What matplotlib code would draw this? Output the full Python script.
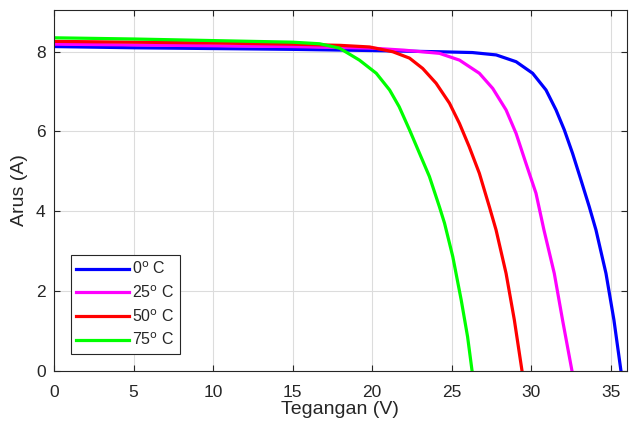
import matplotlib.pyplot as plt

plt.rcParams["font.family"] = ["Liberation Sans", "DejaVu Sans"]

# I-V curves, one per temperature
v_0c = [0, 5, 10, 15, 20, 24.2, 26.3, 27.8, 29.05, 30.09, 30.93, 31.56,
        32.08, 32.6, 33.13, 33.65, 34.07, 34.7, 35.2, 35.64]
i_0c = [8.13, 8.10, 8.08, 8.06, 8.03, 8.0, 7.98, 7.92, 7.75, 7.46, 7.04,
        6.54, 6.04, 5.45, 4.78, 4.11, 3.53, 2.44, 1.27, 0.0]

v_25c = [0, 5, 10, 15, 20, 22, 24.23, 25.49, 26.74, 27.58, 28.42, 29.05,
         29.67, 30.3, 30.8, 31.45, 31.97, 32.56]
i_25c = [8.19, 8.17, 8.15, 8.13, 8.09, 8.04, 7.96, 7.79, 7.46, 7.08, 6.54,
         5.95, 5.2, 4.45, 3.53, 2.44, 1.27, 0.0]

v_50c = [0, 5, 10, 15, 18, 19.84, 21.3, 22.35, 23.18, 24.02, 24.86, 25.49,
         26.1, 26.74, 27.37, 27.79, 28.42, 28.94, 29.42]
i_50c = [8.26, 8.24, 8.22, 8.19, 8.16, 8.12, 8.0, 7.84, 7.58, 7.21, 6.71,
         6.2, 5.62, 4.95, 4.11, 3.53, 2.44, 1.27, 0.0]

v_75c = [0, 5, 10, 15, 16.7, 17.95, 19.2, 20.26, 21.1, 21.7, 22.35, 22.98,
         23.6, 24.23, 24.55, 25.07, 25.6, 26.0, 26.28]
i_75c = [8.35, 8.32, 8.28, 8.24, 8.20, 8.09, 7.79, 7.46, 7.04, 6.62, 6.04,
         5.45, 4.87, 4.11, 3.70, 2.86, 1.77, 0.85, 0.0]

labels = ["0$^\\mathrm{o}$ C", "25$^\\mathrm{o}$ C", "50$^\\mathrm{o}$ C", "75$^\\mathrm{o}$ C"]
colors = ["#0000ff", "#ff00ff", "#ff0000", "#00ff00"]


def main():
    fig = plt.figure(figsize=(6.3, 4.3), dpi=100)
    ax = fig.add_axes([0.0857, 0.138, 0.909, 0.839])

    series = [(v_0c, i_0c), (v_25c, i_25c), (v_50c, i_50c), (v_75c, i_75c)]
    for (v, i), lab, col in zip(series, labels, colors):
        ax.plot(v, i, color=col, lw=2.3, label=lab, solid_joinstyle="round")

    ax.set_xlim(0, 36)
    ax.set_ylim(0, 9.05)
    ax.set_xticks(range(0, 36, 5))
    ax.set_yticks(range(0, 9, 2))
    ax.grid(True, color="#dcdcdc", lw=0.8)
    ax.set_axisbelow(True)
    ax.tick_params(direction="in", top=True, right=True, length=4,
                   labelsize=12.5, colors="#262626")
    ax.tick_params(axis="x", pad=10)
    ax.tick_params(axis="y", pad=6)
    for sp in ax.spines.values():
        sp.set_color("#262626")
        sp.set_linewidth(0.8)

    ax.set_xlabel("Tegangan (V)", fontsize=14, labelpad=1, color="#262626")
    ax.set_ylabel("Arus (A)", fontsize=14, labelpad=6, color="#262626")

    leg = ax.legend(loc="lower left", bbox_to_anchor=(0.029, 0.046),
                    fontsize=11.5, fancybox=False, framealpha=1,
                    edgecolor="#262626", handlelength=3.3, borderpad=0.35,
                    labelspacing=0.45, handletextpad=0.2, borderaxespad=0)
    leg.get_frame().set_linewidth(0.8)
    for t in leg.get_texts():
        t.set_color("#262626")

    fig.savefig("out.png", dpi=100)


if __name__ == "__main__":
    main()
